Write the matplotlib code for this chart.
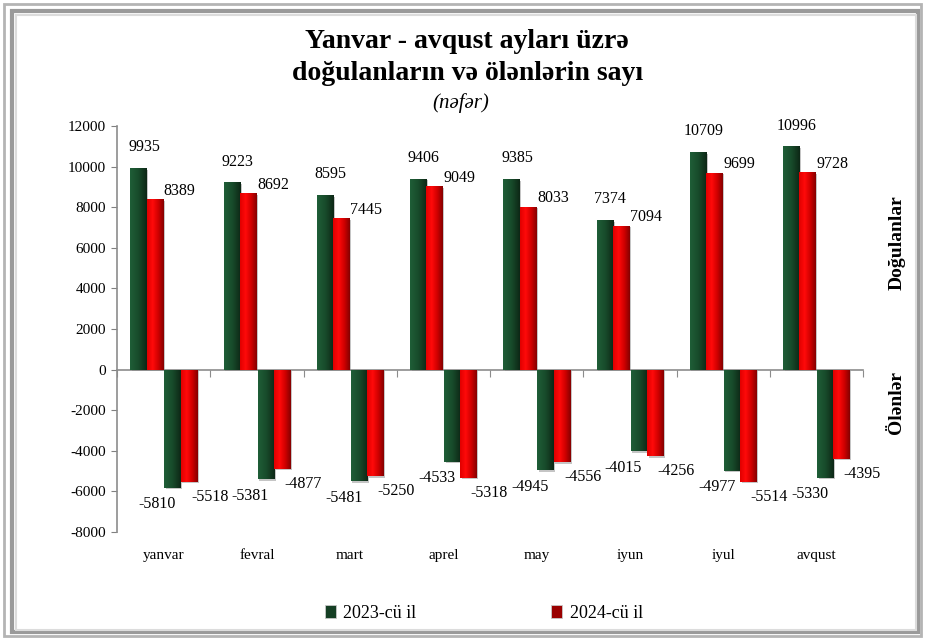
import matplotlib.pyplot as plt
import numpy as np
from matplotlib import patheffects
from matplotlib.colors import LinearSegmentedColormap
from matplotlib.patches import Patch, Rectangle

months = ["yanvar", "fevral", "mart", "aprel", "may", "iyun", "iyul", "avqust"]
births_2023 = [9935, 9223, 8595, 9406, 9385, 7374, 10709, 10996]
births_2024 = [8389, 8692, 7445, 9049, 8033, 7094, 9699, 9728]
deaths_2023 = [-5810, -5381, -5481, -4533, -4945, -4015, -4977, -5330]
deaths_2024 = [-5518, -4877, -5250, -5318, -4556, -4256, -5514, -4395]

plt.rcParams["font.family"] = ["Liberation Serif", "DejaVu Serif"]
plt.rcParams["axes.unicode_minus"] = False

green_map = LinearSegmentedColormap.from_list(
    "green3d", ["#1f5e37", "#184b2b", "#0d2716"]
)
red_map = LinearSegmentedColormap.from_list(
    "red3d", ["#e00000", "#ff0a0a", "#d00000", "#850000"]
)

figure = plt.figure(figsize=(9.25, 6.39), dpi=100)
axes = figure.add_axes([117 / 925, 1 - 532 / 639, (863 - 117) / 925, (532 - 126) / 639])

x = np.arange(len(months))
bar_width = 0.175
series = [
    (births_2023, -0.27, green_map, (4, 15)),
    (births_2024, -0.095, red_map, (18, 6)),
    (deaths_2023, 0.095, green_map, (-11, -12)),
    (deaths_2024, 0.27, red_map, (15, -11)),
]

gradient = np.linspace(0, 1, 64).reshape(1, -1)
shadow = [
    patheffects.SimplePatchShadow(offset=(1.2, -1.2), shadow_rgbFace="#808080", alpha=0.45),
    patheffects.Normal(),
]

for values, offset, cmap, (dx, dy) in series:
    bars = axes.bar(
        x + offset, values, width=bar_width, color=cmap(0.5),
        linewidth=0, zorder=2, path_effects=shadow,
    )
    for bar, value in zip(bars, values):
        x0 = bar.get_x()
        image = axes.imshow(
            gradient, cmap=cmap, aspect="auto", zorder=3,
            extent=[x0, x0 + bar.get_width(), min(0, value), max(0, value)],
        )
        image.set_clip_path(bar)
        axes.annotate(
            f"{value}", (bar.get_x() + bar.get_width() / 2, value),
            xytext=(dx, dy), textcoords="offset points",
            ha="center", va="center", fontsize=11.5,
        )

axes.set_xlim(-0.5, len(months) - 0.5)
axes.set_ylim(-8000, 12000)
axes.set_yticks(np.arange(-8000, 12001, 2000))
axes.tick_params(axis="y", labelsize=11, length=4, color="#808080", pad=4)
axes.set_xticks(x)
axes.set_xticklabels(months, fontsize=11)
axes.tick_params(axis="x", length=0, pad=12)

for side in ["top", "right", "bottom"]:
    axes.spines[side].set_visible(False)
axes.spines["left"].set_color("#8c8c8c")
axes.spines["left"].set_linewidth(1.2)

zero_axis = axes.secondary_xaxis(0.4)
zero_axis.set_xticks(np.arange(len(months) + 1) - 0.5)
zero_axis.set_xticklabels([])
zero_axis.tick_params(length=5, color="#8c8c8c", direction="out")
zero_axis.spines["bottom"].set_color("#8c8c8c")
zero_axis.spines["bottom"].set_linewidth(1.2)

figure.text(0.505, 1 - 42 / 639, "Yanvar - avqust ayları üzrə",
            ha="center", va="center", fontsize=20, fontweight="bold")
figure.text(0.505, 1 - 74 / 639, "doğulanların və ölənlərin sayı",
            ha="center", va="center", fontsize=20, fontweight="bold")
figure.text(0.498, 1 - 103 / 639, "(nəfər)",
            ha="center", va="center", fontsize=15, style="italic")

figure.text(897 / 925, 1 - 243 / 639, "Doğulanlar", rotation=90,
            ha="center", va="center", fontsize=14, fontweight="bold")
figure.text(897 / 925, 1 - 402 / 639, "Ölənlər", rotation=90,
            ha="center", va="center", fontsize=14, fontweight="bold")

handles = [
    Patch(facecolor="#153f24", edgecolor="#c8c8c8", linewidth=0.6, label="2023-cü il"),
    Patch(facecolor="#9a0000", edgecolor="#c8c8c8", linewidth=0.6, label="2024-cü il"),
]
figure.legend(
    handles=handles, loc="center", bbox_to_anchor=(0.523, 1 - 613 / 639),
    ncol=2, frameon=False, fontsize=13, handlelength=0.6, handleheight=0.7,
    handletextpad=0.4, columnspacing=7.5,
)

# frame around the chart
for (x0, y0, x1, y1), colour, lw in [
    ((4, 4, 921, 636), "#b4b4b4", 2.0),
    ((12, 11, 918, 632), "#9a9a9a", 3.0),
    ((16, 15, 916, 630), "#dcdcdc", 1.5),
]:
    figure.patches.append(
        Rectangle(
            (x0 / 925, 1 - y1 / 639), (x1 - x0) / 925, (y1 - y0) / 639,
            transform=figure.transFigure, fill=False, edgecolor=colour,
            linewidth=lw, zorder=0,
        )
    )

figure.savefig("out.png", dpi=100)
